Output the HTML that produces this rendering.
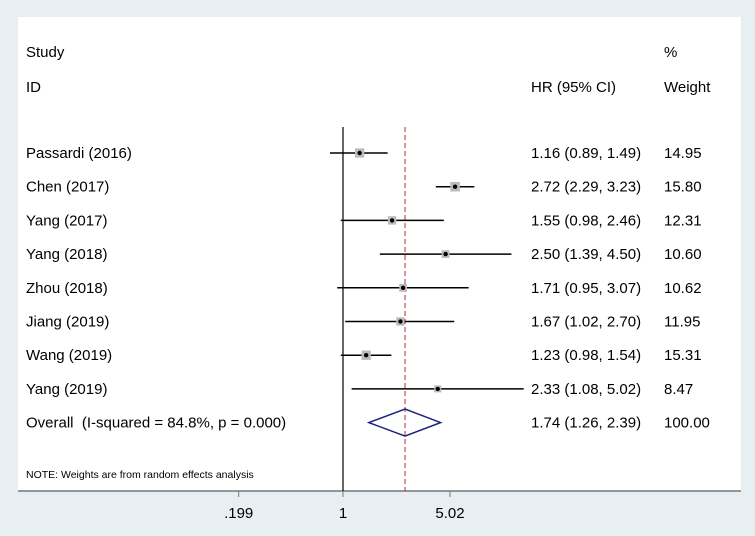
<!DOCTYPE html>
<html><head><meta charset="utf-8"><style>
html,body{margin:0;padding:0;background:#e8eff2;}
svg{display:block;font-family:"Liberation Sans",Arial,sans-serif;}
text{white-space:pre;}
</style></head><body>
<svg id="chart" width="755" height="536">
<rect x="18" y="17" width="723" height="474" fill="#fff"/>
<text x="26" y="57" font-size="15">Study</text>
<text x="26" y="92" font-size="15">ID</text>
<text x="531" y="92" font-size="15">HR (95% CI)</text>
<text x="664" y="57" font-size="15">%</text>
<text x="664" y="92" font-size="15">Weight</text>
<text x="26" y="478" font-size="10.5">NOTE: Weights are from random effects analysis</text>
<line x1="18" y1="491" x2="741" y2="491" stroke="#777" stroke-width="1.5"/>
<g id="marks"></g>
</svg>
<script>
const studies = ['Passardi (2016)','Chen (2017)','Yang (2017)','Yang (2018)','Zhou (2018)','Jiang (2019)','Wang (2019)','Yang (2019)'];
const hr = [1.16,2.72,1.55,2.50,1.71,1.67,1.23,2.33];
const lo = [0.89,2.29,0.98,1.39,0.95,1.02,0.98,1.08];
const hi = [1.49,3.23,2.46,4.50,3.07,2.70,1.54,5.02];
const weights = [14.95,15.80,12.31,10.60,10.62,11.95,15.31,8.47];
const overall = [1.74,1.26,2.39];
const overallLabel = 'Overall  (I-squared = 84.8%, p = 0.000)';
const tickVals = [0.394,1,2.6];
const tickLabels = ['.199','1','5.02'];

const NS='http://www.w3.org/2000/svg';
const g=document.getElementById('marks');
const xs=v=>343+112*Math.log(v);
const ys=i=>153+33.7*i;
function mk(tag,attrs,parent){const e=document.createElementNS(NS,tag);for(const k in attrs)e.setAttribute(k,attrs[k]);(parent||g).appendChild(e);return e;}
let e;
e=mk('line',{x1:xs(1),y1:127,x2:xs(1),y2:491,stroke:'#000','stroke-width':1.2});


e=mk('line',{x1:xs(overall[0]),y1:127,x2:xs(overall[0]),y2:491,stroke:'#b03030','stroke-width':1,'stroke-dasharray':'5,3'});


studies.forEach((s,i)=>{
  const y=ys(i);
  e=mk('text',{x:26,y:y+5,'font-size':15});e.textContent=s;
  
  
  e=mk('line',{x1:xs(lo[i]),y1:y,x2:xs(hi[i]),y2:y,stroke:'#000','stroke-width':1.5});
  
  
  const sz=2.4*Math.sqrt(weights[i]);
  e=mk('rect',{x:xs(hr[i])-sz/2,y:y-sz/2,width:sz,height:sz,fill:'#bbb'});
  
  
  e=mk('circle',{cx:xs(hr[i]),cy:y,r:2.2,fill:'#000'});
  
  
  e=mk('text',{x:531,y:y+5,'font-size':15});e.textContent=hr[i].toFixed(2)+' ('+lo[i].toFixed(2)+', '+hi[i].toFixed(2)+')';
  
  
  e=mk('text',{x:664,y:y+5,'font-size':15});e.textContent=weights[i].toFixed(2);
  
  
});
const oy=ys(8);
e=mk('text',{x:26,y:oy+5,'font-size':15});e.textContent=overallLabel;


e=mk('polygon',{points:`${xs(overall[1])},${oy} ${xs(overall[0])},${oy-13.5} ${xs(overall[2])},${oy} ${xs(overall[0])},${oy+13.5}`,fill:'none',stroke:'#1a237e','stroke-width':1.5});


e=mk('text',{x:531,y:oy+5,'font-size':15});e.textContent=overall[0].toFixed(2)+' ('+overall[1].toFixed(2)+', '+overall[2].toFixed(2)+')';


e=mk('text',{x:664,y:oy+5,'font-size':15});e.textContent='100.00';


tickVals.forEach((v,i)=>{
  e=mk('line',{x1:xs(v),y1:491,x2:xs(v),y2:497,stroke:'#777','stroke-width':1});
  
  
  e=mk('text',{x:xs(v),y:518,'font-size':15,'text-anchor':'middle'});e.textContent=tickLabels[i];
  
  
});
</script>
</body></html>
